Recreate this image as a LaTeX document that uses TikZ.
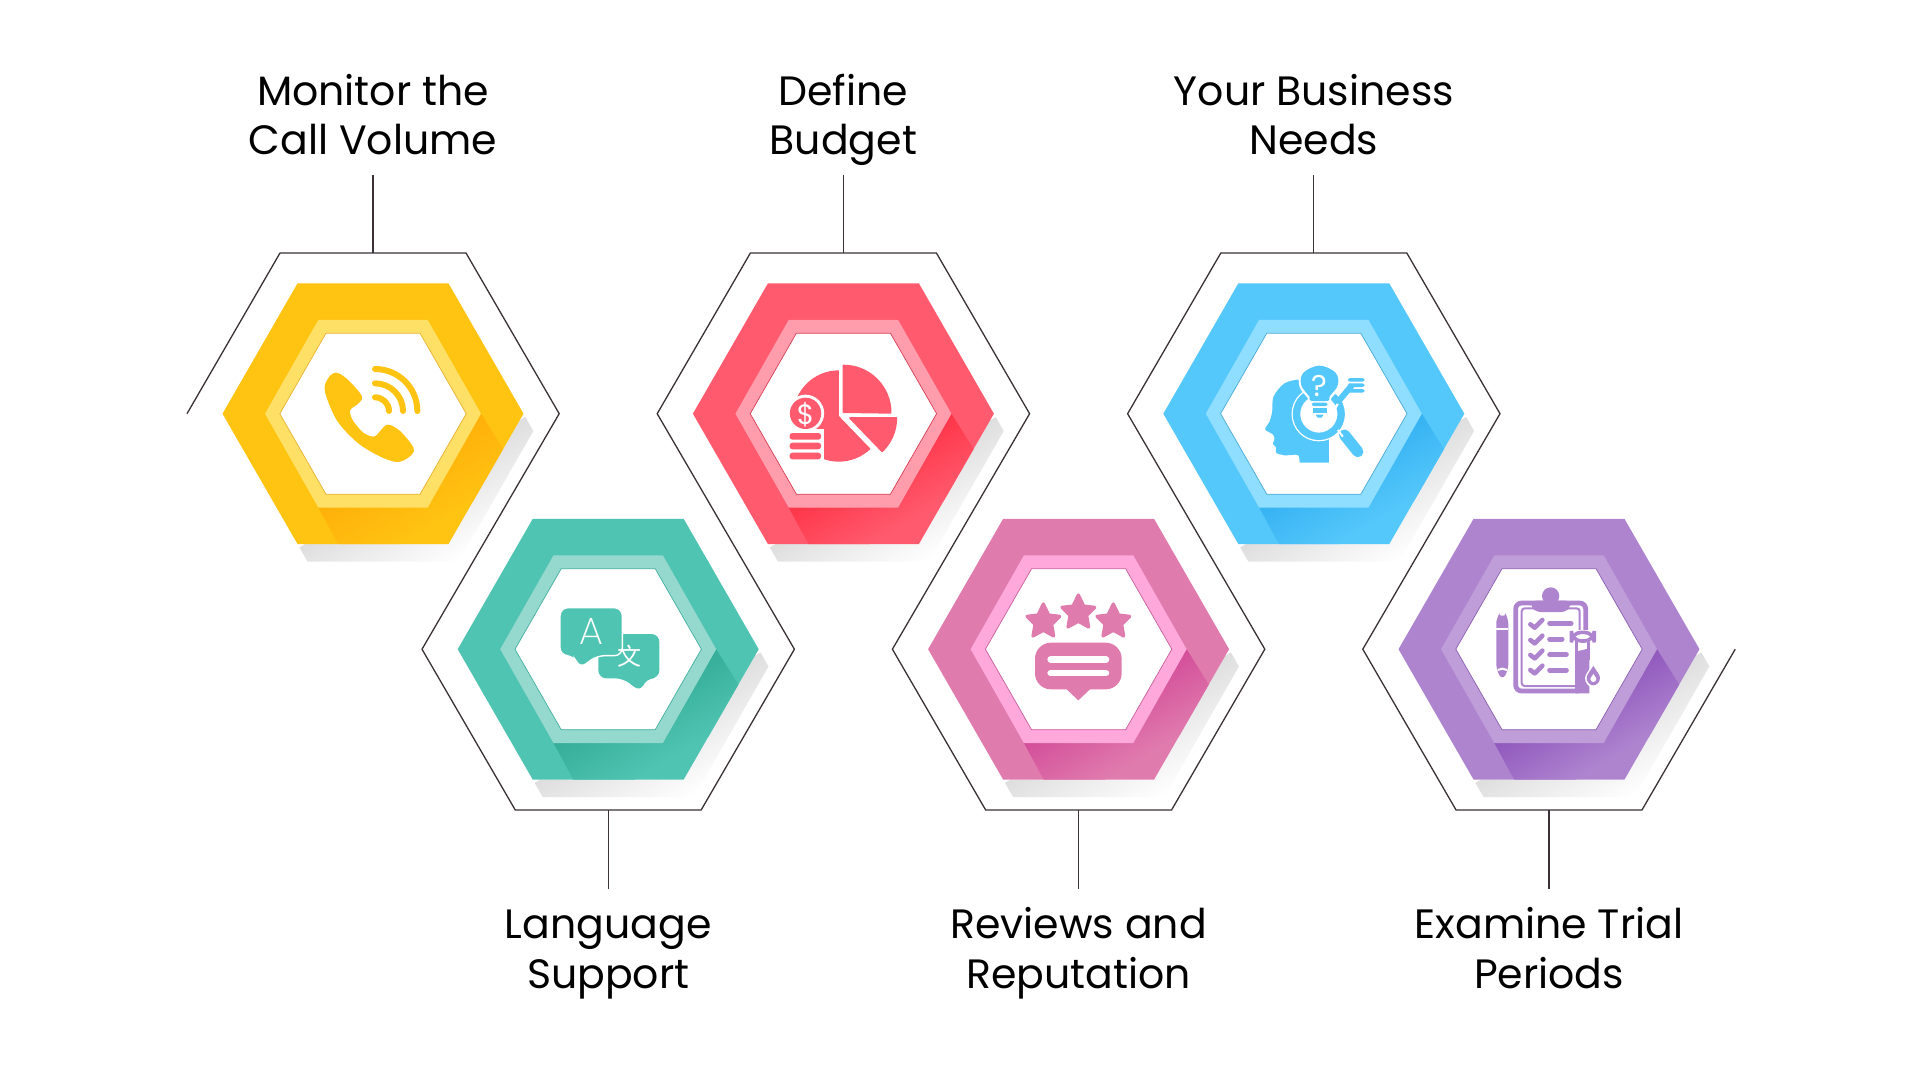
\documentclass[tikz,border=0pt]{standalone}
\usepackage{fontspec}
\setmainfont{Poppins}
\newfontfamily\cjkf{Noto Sans CJK SC}
\newfontfamily\thinf{Poppins ExtraLight}
\definecolor{base1}{HTML}{FFC312}\definecolor{ring1}{HTML}{FFE066}\definecolor{dark1}{HTML}{FFB00A}\definecolor{edge1}{HTML}{E8B02A}
\definecolor{base2}{HTML}{4FC4B2}\definecolor{ring2}{HTML}{95D8CE}\definecolor{dark2}{HTML}{35AD98}\definecolor{edge2}{HTML}{3FAE9E}
\definecolor{base3}{HTML}{FF5A6E}\definecolor{ring3}{HTML}{FF9DAC}\definecolor{dark3}{HTML}{FF3548}\definecolor{edge3}{HTML}{D93A50}
\definecolor{base4}{HTML}{E07BAE}\definecolor{ring4}{HTML}{FFA8DC}\definecolor{dark4}{HTML}{D34E99}\definecolor{edge4}{HTML}{C85C98}
\definecolor{base5}{HTML}{55C8FB}\definecolor{ring5}{HTML}{90DEFF}\definecolor{dark5}{HTML}{36B2F2}\definecolor{edge5}{HTML}{45A8D8}
\definecolor{base6}{HTML}{AE84CF}\definecolor{ring6}{HTML}{BE9DD8}\definecolor{dark6}{HTML}{9058BD}\definecolor{edge6}{HTML}{8A5CB0}
\definecolor{lineC}{HTML}{3A3236}
\definecolor{shadowC}{HTML}{DEDEDE}
\tikzset{
  x=0.5pt,y=-0.5pt,
  outline/.style={draw=lineC,line width=0.65pt,line join=miter},
  conn/.style={draw=lineC,line width=0.65pt},
  lab/.style={inner sep=0pt,align=center,text=black,font=\fontsize{20.5}{24.6}\selectfont},
  labtop/.style={lab,anchor=south,text depth=9.75pt},
  labbot/.style={lab,anchor=north,text height=49.3pt},
  iconzoom/.style={scale=0.33333},
  bar/.style={line cap=round,line width=#1},
}
\newcommand{\HexBlock}[3]{%
 % shadow
 \begin{scope}
  \clip (#1+150.5,#2)--(#1+160.3,#2+17.3)--(#1+85.5,#2+147.8)--(#1-65.5,#2+147.8)--(#1-75.5,#2+130.3)--(#1+75.5,#2+130.3)--cycle;
  \begin{scope}[transform canvas={shift={(#1+108,#2)},rotate=30}]
   \shade[top color=shadowC,bottom color=white] (-400,25) rectangle (400,115);
  \end{scope}
 \end{scope}
 \fill[base#3] (#1-75.5,#2-130.3)--(#1+75.5,#2-130.3)--(#1+150.5,#2)--(#1+75.5,#2+130.3)--(#1-75.5,#2+130.3)--(#1-150.5,#2)--cycle;
 % fold
 \begin{scope}
  \clip (#1+108,#2)--(#1+130.2,#2+35.3)--(#1+75.5,#2+130.3)--(#1-34.9,#2+130.3)--(#1-54.7,#2+93.8)--cycle;
  \begin{scope}[transform canvas={shift={(#1+108,#2)},rotate=30}]
   \shade[top color=dark#3,bottom color=base#3] (-400,0) rectangle (400,72);
  \end{scope}
 \end{scope}
 \fill[ring#3] (#1-54.7,#2-93.8)--(#1+54.7,#2-93.8)--(#1+108,#2)--(#1+54.7,#2+93.8)--(#1-54.7,#2+93.8)--(#1-108,#2)--cycle;
 \filldraw[fill=white,draw=edge#3,line width=0.35pt] (#1-47,#2-80.5)--(#1+47,#2-80.5)--(#1+93.2,#2)--(#1+47,#2+80.5)--(#1-47,#2+80.5)--(#1-93.2,#2)--cycle;}
\newcommand{\StarIcon}[3]{%
 \fill[#3,draw=#3,line width=1.6pt,line join=round]
  (#1+0,#2-53)--(#1+16,#2-20)--(#1+49,#2-16)--(#1+25,#2+8)--(#1+31,#2+43)--(#1+0,#2+26)--(#1-31,#2+43)--(#1-25,#2+8)--(#1-49,#2-16)--(#1-16,#2-20)--cycle;}
\begin{document}
\begin{tikzpicture}
\useasboundingbox (0,0) rectangle (1923,1082);
\fill[white] (0,0) rectangle (1923,1082);

\HexBlock{373}{413.7}{1}
\HexBlock{608.2}{649.2}{2}
\HexBlock{843.4}{413.7}{3}
\HexBlock{1078.6}{649.2}{4}
\HexBlock{1313.8}{413.7}{5}
\HexBlock{1549}{649.2}{6}

% outline
\coordinate (o0) at (187,413.7);
\coordinate (t1) at (373,253);
\coordinate (t2) at (608.2,809.9);
\coordinate (t3) at (843.4,253);
\coordinate (t4) at (1078.6,809.9);
\coordinate (t5) at (1313.8,253);
\coordinate (t6) at (1549,809.9);
\coordinate (o1) at (1735.2,649.2);
\draw[outline] (o0)--(280,253)--(t1)--(466,253)--(559.2,413.7)--(422,649.2)--(515.2,809.9)--(t2)--(701.2,809.9)--(794.4,649.2)--(657.2,413.7)--(750.4,253)--(t3)--(936.4,253)--(1029.6,413.7)--(892.4,649.2)--(985.6,809.9)--(t4)--(1171.6,809.9)--(1264.8,649.2)--(1127.6,413.7)--(1220.8,253)--(t5)--(1406.8,253)--(1500,413.7)--(1362.8,649.2)--(1456,809.9)--(t6)--(1642,809.9)--(o1);

% labels
\node[labtop] (l1) at (373,174.5) {Monitor the\\Call Volume};
\node[labtop] (l3) at (843.4,174.5) {Define\\Budget};
\node[labtop] (l5) at (1313.8,174.5) {Your Business\\Needs};
\node[labbot] (l2) at (608.2,889) {Language\\Support};
\node[labbot] (l4) at (1078.6,889) {Reviews and\\Reputation};
\node[labbot] (l6) at (1549,889) {Examine Trial\\Periods};
\draw[conn] (l1.south)--(t1);
\draw[conn] (l3.south)--(t3);
\draw[conn] (l5.south)--(t5);
\draw[conn] (l2.north)--(t2);
\draw[conn] (l4.north)--(t4);
\draw[conn] (l6.north)--(t6);

% phone icon
\begin{scope}[shift={(170,230)},iconzoom]
 \fill[base1] plot[smooth cycle,tension=.55] coordinates {(497,428)(530,446)(575,497)(566,520)(541,540)(548,570)(580,608)(612,620)(628,606)(653,584)(690,603)(731,655)(716,682)(680,696)(625,677)(560,636)(500,570)(465,485)(473,447)};
 \draw[base1,bar=3pt] (615,417) .. controls (685,417) and (742,473) .. (742,543);
 \draw[base1,bar=3pt] (615,460) .. controls (661,460) and (699,497) .. (699,543);
 \draw[base1,bar=3pt] (615,502) .. controls (638,502) and (657,520) .. (657,543);
\end{scope}

% pie icon
\begin{scope}[shift={(739.5,340)},iconzoom]
 \fill[base3] (298,228)--(298,91) arc[start angle=-90,end angle=-270,radius=137] arc[start angle=90,end angle=46,radius=137]--cycle;
 \fill[white] (198,220) circle[radius=56];
 \fill[white] (140,268) rectangle (254,368);
 \fill[base3] (198,220) circle[radius=47];
 \node[text=white,inner sep=0pt,font=\fontsize{14}{14}\selectfont] (dollar) at (198,224) {\$};
 \fill[base3,rounded corners=1.5pt] (150,279) rectangle (245,299);
 \fill[base3,rounded corners=1.5pt] (150,308) rectangle (245,328);
 \fill[base3,rounded corners=1.5pt] (150,338) rectangle (245,358);
 \filldraw[base3,line width=1pt,line join=round] (312,216)--(312,77) arc[start angle=-90,end angle=0,radius=141]--cycle;
 \filldraw[base3,line width=1pt,line join=round] (332,234)--(470,234) arc[start angle=0,end angle=46,radius=138]--cycle;
\end{scope}

% translate icon
\begin{scope}[shift={(540,590)},iconzoom]
 \fill[base2,rounded corners=4pt] (175,132)--(358,132)--(358,265)--(318,265)--(302,306)--(250,265)--(175,265)--cycle;
 \filldraw[fill=base2,draw=white,line width=0.7pt,rounded corners=4pt] (60,53)--(247,53)--(247,197)--(170,197)--(119,236)--(102,197)--(60,197)--cycle;
 \node[text=white,inner sep=0pt,font=\thinf\fontsize{19}{19}\selectfont] (letA) at (155,125) {A};
 \node[text=white,inner sep=0pt,font=\cjkf\fontsize{12}{12}\selectfont] (letW) at (268,200) {文};
\end{scope}

% stars icon
\begin{scope}[shift={(1010,590)},iconzoom]
 \StarIcon{100}{95}{base4}
 \StarIcon{205}{68}{base4}
 \StarIcon{310}{95}{base4}
 \fill[base4,rounded corners=8pt] (75,158) rectangle (335,298);
 \fill[base4] (168,296)--(205,331)--(242,296)--cycle;
 \draw[white,bar=3.3pt] (122,208)--(288,208);
 \draw[white,bar=3.3pt] (122,249)--(288,249);
\end{scope}

% head icon
\begin{scope}[shift={(1229.5,340)},iconzoom]
 \fill[base5] plot[smooth,tension=.5] coordinates {(298,368)(298,300)(300,200)(280,125)(215,118)(165,130)(132,170)(128,215)(120,245)(107,268)(130,283)(135,297)(130,312)(140,322)(140,338)(165,346)(205,345)(210,368)} --cycle;
 \fill[white] (268,222) circle[radius=82];
 \draw[base5,line width=3.7pt] (268,222) circle[radius=67];
 \draw[base5,line cap=round,line width=5.6pt] (345,285)--(385,335);
 \draw[white,line width=1pt] (325,270)--(340,290);
 \draw[base5,line width=3pt] (330,180)--(368,135);
 \fill[white] plot[smooth cycle,tension=.6] coordinates {(270,70)(325,95)(332,140)(305,175)(300,192)(240,192)(235,175)(210,140)(215,95)};
 \fill[base5] plot[smooth cycle,tension=.6] coordinates {(270,77)(318,98)(325,135)(300,170)(296,182)(244,182)(240,170)(215,135)(222,98)};
 \fill[white] (240,192) rectangle (302,240);
 \fill[base5,rounded corners=1pt] (247,188) rectangle (294,198);
 \fill[base5] (250,205) rectangle (291,219);
 \fill[base5] (259,224)--(282,224)--(276,233)--(264,233)--cycle;
 \draw[white,line width=1.2pt] (303,225)--(325,192);
 \node[text=white,inner sep=0pt,font=\fontsize{15}{15}\selectfont] (qmark) at (269,137) {?};
 \fill[base5,rounded corners=1.2pt] (355,114) rectangle (405,125);
 \fill[base5,rounded corners=1.2pt] (355,130) rectangle (405,141);
 \fill[base5,rounded corners=1.2pt] (355,147) rectangle (405,158);
\end{scope}

% clipboard icon
\begin{scope}[shift={(1479,580)},iconzoom]
 \draw[base6,line width=2.4pt,rounded corners=3pt] (320,165)--(320,69)--(110,69)--(110,333)--(300,333);
 \draw[base6,line width=1pt,rounded corners=1.5pt] (302,155)--(302,85)--(128,85)--(128,318)--(290,318);
 \fill[base6] (215,48) circle[radius=26];
 \fill[base6,rounded corners=2.5pt] (155,62)--(275,62)--(275,78)--(262,96)--(170,96)--(155,78)--cycle;
 \foreach \yy in {133,180,225,270}{
  \draw[base6,line width=2.3pt,line cap=round,line join=round] (154,\yy)--(167,\yy+10)--(190,\yy-13);}
 \draw[base6,bar=2.5pt] (212,130)--(276,130);
 \draw[base6,bar=2.5pt] (212,177)--(249,177);
 \draw[base6,bar=2.5pt] (212,224)--(262,224);
 \draw[base6,bar=2.5pt] (212,270)--(262,270);
 \fill[white] (276,150) rectangle (355,310);
 \fill[base6] (290,215)--(331,205)--(331,340)--(290,340)--cycle;
 \draw[base6,line width=1.6pt] (293,180)--(293,340) (329,180)--(329,240);
 \filldraw[fill=white,draw=base6,line width=1.8pt,rounded corners=5pt] (277,157) rectangle (346,183);
 \fill[white] (343,250) .. controls (355,270) and (368,283) .. (368,294) .. controls (368,312) and (354,322) .. (343,322) .. controls (330,322) and (318,310) .. (318,294) .. controls (318,283) and (332,268) .. (343,250) --cycle;
 \fill[base6] (343,258) .. controls (353,274) and (363,284) .. (363,294) .. controls (363,307) and (352,316) .. (343,316) .. controls (333,316) and (323,306) .. (323,294) .. controls (323,284) and (334,272) .. (343,258) --cycle;
 \fill[white] (343,282) .. controls (349,290) and (352,294) .. (352,297) .. controls (352,303) and (347,306) .. (343,306) .. controls (338,306) and (334,302) .. (334,297) .. controls (334,294) and (338,290) .. (343,282) --cycle;
 \fill[base6,rounded corners=3pt] (52,140)--(52,115) .. controls (55,110) and (85,110) .. (88,115)--(88,270)--(70,301)--(52,270)--cycle;
 \draw[white,line width=1pt] (52,148)--(88,148);
 \draw[white,line width=1pt] (56,270)--(70,266)--(84,270);
\end{scope}
\end{tikzpicture}
\end{document}
